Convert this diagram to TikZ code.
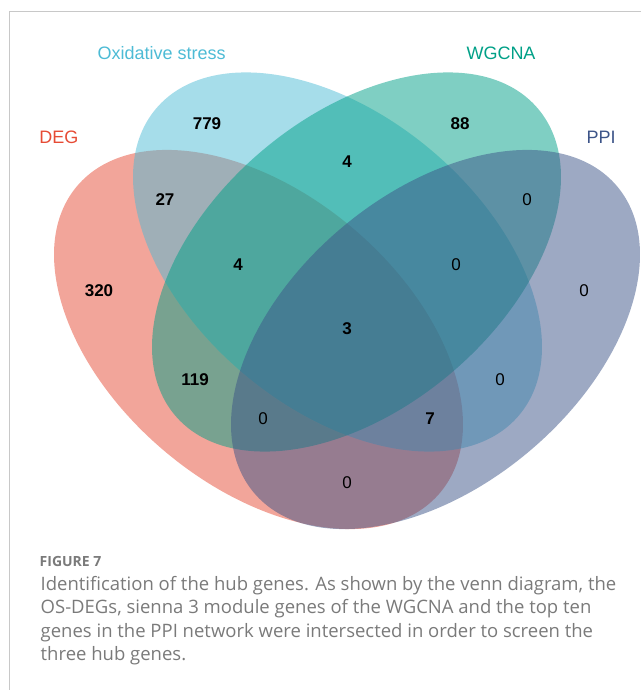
\documentclass[tikz,border=0pt]{standalone}
\usepackage{fontspec}
\setmainfont{Liberation Sans}
\newfontfamily\capfont{Open Sans}
\usepackage{tikz}
\usetikzlibrary{positioning}
\definecolor{degred}{HTML}{E64B35}
\definecolor{oscyan}{HTML}{4DBBD5}
\definecolor{wgcnagreen}{HTML}{00A087}
\definecolor{ppiblue}{HTML}{3C5488}
\definecolor{framegray}{HTML}{C8C8C8}
\definecolor{capgray}{HTML}{7A7A7A}
\tikzset{vennset/.style={fill opacity=0.5, draw=none}}
\tikzset{setlabel/.style={font=\fontsize{18}{18}\selectfont, inner sep=0pt}}
\tikzset{countbold/.style={font=\fontsize{17}{17}\selectfont\bfseries, inner sep=0pt}}
\tikzset{countplain/.style={font=\fontsize{17}{17}\selectfont, inner sep=0pt}}
\tikzset{captext/.style={text=capgray, inner sep=0pt, anchor=base west}}

\begin{document}
\begin{tikzpicture}[x=1pt,y=-1pt]
  \useasboundingbox (0,0) rectangle (641,690);
  % card frame
  \draw[framegray, line width=1.2pt] (641,11.5) -- (9.5,11.5) -- (9.5,690);
  % the four sets
  \fill[degred, vennset, rotate around={-40.2:(258.5,339.5)}]
    (258.5,339.5) ellipse [x radius=237.6pt, y radius=145.9pt];
  \fill[oscyan, vennset, rotate around={-40.2:(337.5,262)}]
    (337.5,262) ellipse [x radius=237.6pt, y radius=145.9pt];
  \fill[wgcnagreen, vennset, rotate around={40.2:(356.5,262)}]
    (356.5,262) ellipse [x radius=237.6pt, y radius=145.9pt];
  \fill[ppiblue, vennset, rotate around={40.2:(435.5,339.5)}]
    (435.5,339.5) ellipse [x radius=237.6pt, y radius=145.9pt];
  % set names
  \node[setlabel, text=oscyan] (labOS) at (161.7,53) {Oxidative stress};
  \node[setlabel, text=wgcnagreen] (labWGCNA) at (501,53) {WGCNA};
  \node[setlabel, text=degred] (labDEG) at (59,137) {DEG};
  \node[setlabel, text=ppiblue] (labPPI) at (601,137) {PPI};
  % region counts
  \node[countbold] (nB) at (207,124) {779};
  \node[countbold] (nC) at (460,124) {88};
  \node[countbold] (nBC) at (347,162) {4};
  \node[countbold] (nAB) at (165,200) {27};
  \node[countplain] (nCD) at (527,200) {0};
  \node[countbold] (nABC) at (238,265) {4};
  \node[countplain] (nBCD) at (456,265) {0};
  \node[countbold] (nA) at (99,291) {320};
  \node[countplain] (nD) at (584,291) {0};
  \node[countbold] (nABCD) at (347,329) {3};
  \node[countbold] (nAC) at (195,380) {119};
  \node[countplain] (nBD) at (500,380) {0};
  \node[countplain] (nACD) at (263,419) {0};
  \node[countbold] (nABD) at (430,419) {7};
  \node[countplain] (nAD) at (347,483) {0};
  % caption
  \node[captext, font=\capfont\fontsize{14}{14}\selectfont\bfseries] (fig) at (39.5,566) {FIGURE 7};
  \node[captext, font=\capfont\fontsize{18.5}{23.6}\selectfont, align=left] (cap) at (40.5,660.8)
    {Identification of the hub genes. As shown by the venn diagram, the\\
     OS-DEGs, sienna 3 module genes of the WGCNA and the top ten\\
     genes in the PPI network were intersected in order to screen the\\
     three hub genes.};
\end{tikzpicture}
\end{document}
